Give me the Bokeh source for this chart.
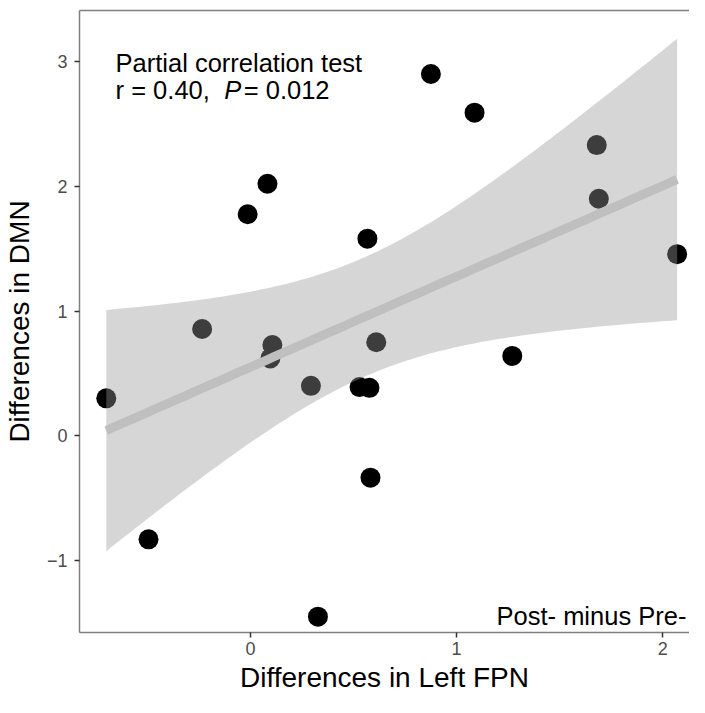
import numpy as np
from bokeh.plotting import figure
from bokeh.models import Range1d, FixedTicker, LinearAxis, Label
from bokeh.embed import file_html
from bokeh.resources import INLINE

# Data (Post- minus Pre- differences)
fpn_diff = [-0.70, -0.495, -0.235, -0.014, 0.082, 0.106, 0.096, 0.293, 0.327, 0.529,
            0.577, 0.567, 0.582, 0.610, 0.875, 1.087, 1.270, 1.680, 1.690, 2.070]
dmn_diff = [0.30, -0.83, 0.856, 1.776, 2.02, 0.728, 0.62, 0.40, -1.45, 0.39,
            0.384, 1.58, -0.336, 0.75, 2.90, 2.59, 0.64, 2.33, 1.90, 1.456]
x_ticks = [0, 1, 2]
y_ticks = [-1, 0, 1, 2, 3]
y_tick_labels = {-1: "\u22121", 0: "0", 1: "1", 2: "2", 3: "3"}
title_line1 = "Partial correlation test"
stat_r = "r = 0.40,"
stat_p_sym = "P"
stat_p_val = "= 0.012"
corner_note = "Post- minus Pre-"

FONT = "Liberation Sans"

# Linear fit with 95% confidence band (as geom_smooth(method="lm"))
x = np.array(fpn_diff)
y = np.array(dmn_diff)
n = len(x)
slope, intercept = np.polyfit(x, y, 1)
resid = y - (intercept + slope * x)
s = np.sqrt(np.sum(resid ** 2) / (n - 2))
xm = x.mean()
sxx = np.sum((x - xm) ** 2)
t_crit = 2.101  # t(0.975, df=18)
xg = np.linspace(x.min(), x.max(), 100)
yg = intercept + slope * xg
se = s * np.sqrt(1.0 / n + (xg - xm) ** 2 / sxx)
lower = yg - t_crit * se
upper = yg + t_crit * se

W, H = 689, 697
BL, BT, BB = 79, 10, 65
PX_Y = 124.75
y1 = 3.409
x_rng = Range1d(-0.83, 2.13)
y_rng = Range1d(y1 - (H - BT - BB) / PX_Y, y1)

p = figure(width=W, height=H, output_backend="svg", toolbar_location=None,
           x_range=x_rng, y_range=y_rng,
           min_border_left=BL, min_border_top=BT, min_border_right=0, min_border_bottom=BB)
p.outline_line_color = None
p.grid.visible = False
p.background_fill_color = "white"

# points, then band and line on top (like ggplot layer order)
p.scatter(x, y, size=20, fill_color="black", line_color=None)
p.varea(x=xg, y1=lower, y2=upper, fill_color="#999999", fill_alpha=0.4)
p.line(xg, yg, line_color="#bfbfbf", line_width=9)

for ax in [p.xaxis[0], p.yaxis[0]]:
    ax.axis_line_color = "#7f7f7f"
    ax.axis_line_width = 1.5
    ax.major_tick_line_color = "#333333"
    ax.major_tick_line_width = 1.5
    ax.major_tick_out = 5
    ax.major_tick_in = 0
    ax.minor_tick_line_color = None
    ax.major_label_text_color = "#4d4d4d"
    ax.major_label_text_font = FONT
    ax.major_label_text_font_size = "18px"
    ax.axis_label_text_font = FONT
    ax.axis_label_text_font_size = "28px"
    ax.axis_label_text_font_style = "normal"
    ax.axis_label_text_color = "black"

p.xaxis[0].ticker = FixedTicker(ticks=x_ticks)
p.yaxis[0].ticker = FixedTicker(ticks=y_ticks)
p.yaxis[0].major_label_overrides = y_tick_labels
p.xaxis[0].axis_label = "Differences in Left FPN"
p.yaxis[0].axis_label = "Differences in DMN"
p.xaxis[0].major_label_standoff = 4
p.yaxis[0].major_label_standoff = 7
p.xaxis[0].axis_label_standoff = 4
p.yaxis[0].axis_label_standoff = 9

top = LinearAxis(ticker=FixedTicker(ticks=[]), axis_line_color="#7f7f7f", axis_line_width=1.5,
                 major_tick_out=0, major_tick_in=0, minor_tick_out=0, minor_tick_in=0,
                 major_label_text_font_size="0px", major_label_standoff=0)
p.add_layout(top, "above")

ann = dict(text_font=FONT, text_font_size="25.5px", text_color="black", text_baseline="alphabetic")
p.add_layout(Label(x=-0.655, y=2.992, text=title_line1, text_align="left", **ann))
p.add_layout(Label(x=-0.655, y=2.768, text=stat_r, text_align="left", **ann))
p.add_layout(Label(x=-0.128, y=2.768, text=stat_p_sym, text_align="left", text_font_style="italic", **ann))
p.add_layout(Label(x=-0.033, y=2.768, text=stat_p_val, text_align="left", **ann))
p.add_layout(Label(x=2.115, y=-1.445, text=corner_note, text_align="right", **ann))

open("out.html", "w").write(file_html(p, INLINE))
